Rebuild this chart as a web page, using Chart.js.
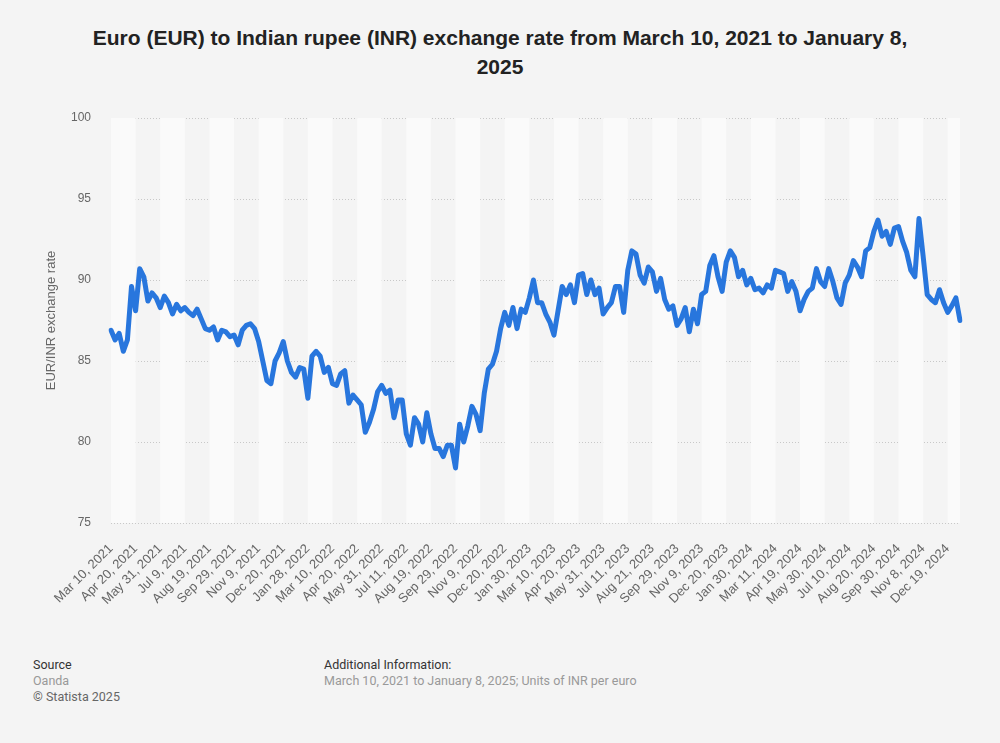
<!DOCTYPE html>
<html>
<head>
<meta charset="utf-8">
<script src="https://cdn.jsdelivr.net/npm/chart.js@4.4.1/dist/chart.umd.min.js"></script>
<style>
  body{margin:0;background:#f4f4f4;width:1000px;height:743px;position:relative;overflow:hidden;font-family:"Liberation Sans",Arial,sans-serif;}
  #title{position:absolute;left:0;top:23px;width:1000px;text-align:center;font-weight:bold;font-size:21px;line-height:29px;color:#222;}
  #chart{position:absolute;left:0;top:0;}
  .foot{position:absolute;font-family:Roboto,"Liberation Sans",sans-serif;font-size:12.5px;line-height:16px;}
</style>
</head>
<body>
<div id="title">Euro (EUR) to Indian rupee (INR) exchange rate from March 10, 2021 to January 8,<br>2025</div>
<canvas id="chart" width="1000" height="623"></canvas>
<div class="foot" style="left:33px;top:657px;color:#333">Source</div>
<div class="foot" style="left:33px;top:673px;color:#999">Oanda</div>
<div class="foot" style="left:33px;top:689px;color:#666">© Statista 2025</div>
<div class="foot" style="left:324px;top:657px;color:#333">Additional Information:</div>
<div class="foot" style="left:324px;top:673px;color:#999">March 10, 2021 to January 8, 2025; Units of INR per euro</div>
<script>
// tick labels, one every 6 points
let tickLabels=['Mar 10, 2021','Apr 20, 2021','May 31, 2021','Jul 9, 2021','Aug 19, 2021','Sep 29, 2021','Nov 9, 2021','Dec 20, 2021','Jan 28, 2022','Mar 10, 2022','Apr 20, 2022','May 31, 2022','Jul 11, 2022','Aug 19, 2022','Sep 29, 2022','Nov 9, 2022','Dec 20, 2022','Jan 30, 2023','Mar 10, 2023','Apr 20, 2023','May 31, 2023','Jul 11, 2023','Aug 21, 2023','Sep 29, 2023','Nov 9, 2023','Dec 20, 2023','Jan 30, 2024','Mar 11, 2024','Apr 19, 2024','May 30, 2024','Jul 10, 2024','Aug 20, 2024','Sep 30, 2024','Nov 8, 2024','Dec 19, 2024'];
let pointsPerTick=6;

// EUR/INR
let rates=[
86.9,86.3,86.7,85.6,86.3,89.6,88.1,90.7,90.2,88.7,
89.2,88.9,88.3,89.0,88.6,87.9,88.5,88.1,88.3,88.0,
87.8,88.2,87.6,87.0,86.9,87.1,86.3,86.9,86.8,86.5,
86.6,86.0,86.9,87.2,87.3,87.0,86.2,85.0,83.8,83.6,
85.0,85.5,86.2,85.0,84.3,84.0,84.6,84.5,82.7,85.3,
85.6,85.3,84.3,84.6,83.6,83.5,84.2,84.4,82.4,82.9,
82.6,82.3,80.6,81.2,82.0,83.1,83.5,83.0,83.2,81.5,
82.6,82.6,80.5,79.8,81.5,81.1,80.0,81.8,80.5,79.6,
79.6,79.1,79.8,79.8,78.4,81.1,80.0,81.0,82.2,81.7,
80.7,83.0,84.5,84.8,85.6,87.0,88.0,87.2,88.3,87.0,
88.2,88.0,88.9,90.0,88.6,88.6,87.9,87.4,86.6,88.1,
89.6,89.1,89.7,88.6,90.3,90.4,89.1,90.0,89.1,89.5,
87.9,88.3,88.6,89.6,89.6,88.0,90.6,91.8,91.6,90.3,
89.8,90.8,90.5,89.3,90.1,88.8,88.2,88.4,87.2,87.6,
88.3,86.8,88.2,87.3,89.1,89.3,90.9,91.5,90.2,89.3,
91.1,91.8,91.4,90.2,90.6,89.7,90.1,89.4,89.5,89.2,
89.7,89.5,90.6,90.5,90.4,89.3,89.9,89.3,88.1,88.8,
89.3,89.5,90.7,89.9,89.6,90.7,89.9,88.9,88.5,89.8,
90.3,91.2,90.8,90.2,91.8,92.0,93.0,93.7,92.7,93.0,
92.2,93.2,93.3,92.4,91.7,90.6,90.2,93.8,91.5,89.1,
88.8,88.6,89.4,88.6,88.0,88.4,88.9,87.5
];

let labels=rates.map((_,i)=> i%pointsPerTick==0 && tickLabels[i/pointsPerTick] ? tickLabels[i/pointsPerTick] : '');

// alternating light bands between tick labels
const bands={
  id:'bands',
  beforeDatasetsDraw(chart){
    const {ctx,chartArea,scales:{x}}=chart;
    ctx.save();
    ctx.fillStyle='#fafafa';
    for(let i=0;i<tickLabels.length;i+=2){
      let x0=x.getPixelForValue(i*pointsPerTick);
      let x1=(i+1)*pointsPerTick<rates.length ? x.getPixelForValue((i+1)*pointsPerTick) : chartArea.right;
      ctx.fillRect(x0,chartArea.top,x1-x0,chartArea.bottom-chartArea.top);
    }
    ctx.restore();
  }
};

const tickFont={family:'"Liberation Sans", Arial, sans-serif',size:12};

new Chart(document.getElementById('chart'),{
  type:'line',
  data:{
    labels:labels,
    datasets:[{
      data:rates,
      borderColor:'#2876dd',
      borderWidth:5,
      pointRadius:0,
      tension:0,
      borderJoinStyle:'round',
      borderCapStyle:'round'
    }]
  },
  options:{
    responsive:false,
    animation:false,
    layout:{padding:{top:118,right:40,left:0,bottom:0}},
    plugins:{legend:{display:false},tooltip:{enabled:false}},
    scales:{
      x:{
        grid:{display:false},
        border:{display:false},
        ticks:{autoSkip:false,maxRotation:45,minRotation:45,color:'#666',font:{family:tickFont.family,size:13},padding:10},
        afterFit(scale){scale.height=100;}
      },
      y:{
        min:75,max:100,
        grid:{color:'#c8c8c8',drawTicks:false},
        border:{display:false,dash:[1,2]},
        ticks:{stepSize:5,color:'#666',font:tickFont,padding:20},
        title:{display:true,text:'EUR/INR exchange rate',color:'#666',font:{family:tickFont.family,size:13},padding:{top:44,bottom:0}},
        afterFit(scale){scale.width=111;}
      }
    }
  },
  plugins:[bands]
});
</script>
</body>
</html>
